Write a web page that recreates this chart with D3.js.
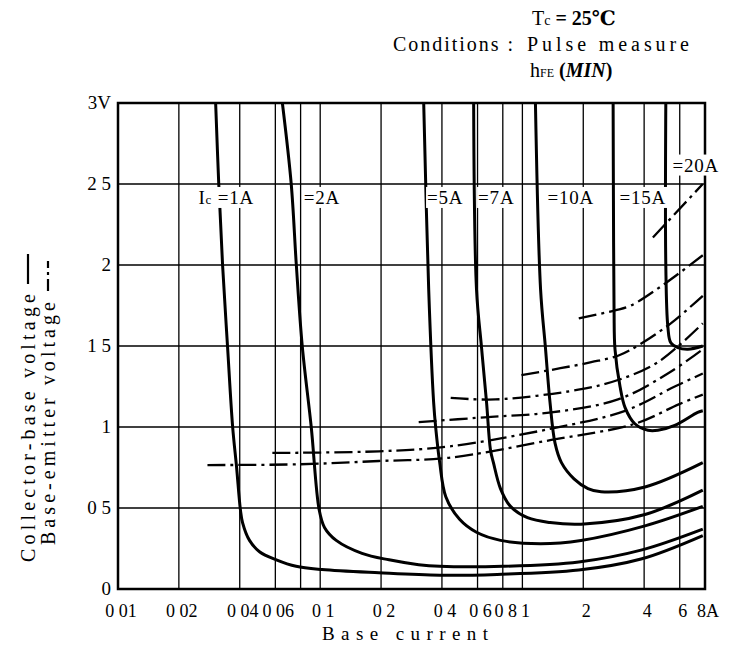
<!DOCTYPE html>
<html>
<head>
<meta charset="utf-8">
<script src="https://cdn.jsdelivr.net/npm/d3@7"></script>
<style>
body { margin: 0; background: #fff; }
text { font-family: 'Liberation Serif', 'DejaVu Serif', serif; fill: #000; }
</style>
</head>
<body>
<div id="chart"></div>
<script>
// base current grid (A) and their printed labels
const xTicks = [0.01, 0.02, 0.04, 0.06, 0.08, 0.1, 0.2, 0.4, 0.6, 0.8, 1, 2, 4, 6, 8];
const xTickLabels = ['0 01', '0 02', '0 04', '0 06', '', '0 1', '0 2', '0 4', '0 6', '0 8', '1', '2', '4', '6', '8A'];
const yTicks = [0, 0.5, 1, 1.5, 2, 2.5, 3];
const yTickLabels = ['0', '0 5', '1', '1 5', '2', '2 5', '3V'];

// collector-base voltage, [Ib (A), V]
const vcb1A = [[0.0304, 3.0], [0.0315, 2.5], [0.0329, 2.0], [0.0348, 1.5], [0.0369, 1.0], [0.0386, 0.75], [0.0403, 0.49], [0.0413, 0.41], [0.0447, 0.30], [0.0501, 0.23], [0.0607, 0.18], [0.076, 0.14], [0.102, 0.12], [0.195, 0.10], [0.39, 0.085], [0.75, 0.09], [1.9, 0.117], [3.86, 0.185], [7.8, 0.33]];
const vcb2A = [[0.065, 3.0], [0.0719, 2.5], [0.0762, 2.0], [0.0815, 1.5], [0.0903, 1.0], [0.0988, 0.49], [0.105, 0.38], [0.12, 0.30], [0.161, 0.22], [0.219, 0.18], [0.307, 0.15], [0.39, 0.14], [0.8, 0.14], [1.9, 0.167], [3.86, 0.24], [7.8, 0.37]];
const vcb5A = [[0.325, 3.0], [0.344, 1.85], [0.364, 1.15], [0.373, 0.99], [0.39, 0.78], [0.418, 0.57], [0.489, 0.43], [0.593, 0.35], [0.779, 0.30], [1.23, 0.28], [1.95, 0.30], [4.04, 0.39], [7.8, 0.51]];
const vcb7A = [[0.574, 3.0], [0.593, 1.85], [0.628, 1.49], [0.665, 1.15], [0.695, 0.86], [0.719, 0.78], [0.779, 0.62], [0.873, 0.51], [1.06, 0.44], [1.37, 0.41], [1.95, 0.40], [4.04, 0.46], [7.8, 0.61]];
const vcb10A = [[1.16, 3.0], [1.23, 1.85], [1.30, 1.49], [1.37, 1.15], [1.45, 0.90], [1.56, 0.78], [1.80, 0.68], [2.11, 0.62], [2.45, 0.60], [4.04, 0.63], [7.8, 0.78]];
const vcb15A = [[2.81, 3.0], [2.82, 2.4], [2.84, 1.72], [2.87, 1.48], [3.04, 1.25], [3.22, 1.12], [3.6, 1.02], [4.18, 0.98], [4.68, 0.98], [5.67, 1.01], [7.36, 1.09], [7.8, 1.10]];
const vcb20A = [[5.12, 3.0], [5.12, 2.0], [5.24, 1.62], [5.42, 1.52], [5.87, 1.49], [6.58, 1.48], [7.8, 1.50]];

// base-emitter voltage, [Ib (A), V]
const vbe1A = [[0.0277, 0.765], [0.079, 0.77], [0.195, 0.79], [0.432, 0.81], [1.39, 0.92], [3.6, 1.02], [5.93, 1.14], [7.8, 1.20]];
const vbe2A = [[0.058, 0.84], [0.195, 0.85], [0.432, 0.88], [1.39, 0.99], [3.22, 1.10], [5.67, 1.25], [7.8, 1.33]];
const vbe5A = [[0.307, 1.03], [0.65, 1.06], [1.39, 1.09], [2.97, 1.17], [5.24, 1.33], [7.8, 1.48]];
const vbe7A = [[0.442, 1.18], [0.736, 1.17], [1.89, 1.23], [2.97, 1.29], [4.68, 1.40], [7.8, 1.64]];
const vbe10A = [[0.989, 1.32], [1.5, 1.36], [2.19, 1.40], [2.97, 1.44], [3.81, 1.51], [5.42, 1.64], [7.8, 1.81]];
const vbe15A = [[1.9, 1.67], [2.87, 1.72], [3.44, 1.75], [5.0, 1.88], [7.8, 2.06]];
const vbe20A = [[4.42, 2.17], [7.8, 2.50]];

// curve labels: [text after "=", Ib, V]
const curveLabels = [['1A', 0.0455, 2.42], ['2A', 0.081, 2.42], ['5A', 0.33, 2.42], ['7A', 0.59, 2.42], ['10A', 1.30, 2.42], ['15A', 2.95, 2.42], ['20A', 5.4, 2.62]];

const svg = d3.select('#chart').append('svg')
	.attr('width', 736)
	.attr('height', 658)
	.style('background', '#fff');

const x = d3.scaleLog().domain([0.01, 8]).range([118, 705]);
const y = d3.scaleLinear().domain([0, 3]).range([589, 103]);

// grid
svg.append('g').selectAll('line.v')
	.data(xTicks).enter()
	.append('line')
	.attr('x1', d => x(d)).attr('x2', d => x(d))
	.attr('y1', y(0)).attr('y2', y(3))
	.attr('stroke', '#000').attr('stroke-width', 1.3);

svg.append('g').selectAll('line.h')
	.data(yTicks).enter()
	.append('line')
	.attr('x1', x(0.01)).attr('x2', x(8))
	.attr('y1', d => y(d)).attr('y2', d => y(d))
	.attr('stroke', '#000').attr('stroke-width', 1.3);

svg.append('rect')
	.attr('x', x(0.01)).attr('y', y(3))
	.attr('width', x(8) - x(0.01)).attr('height', y(0) - y(3))
	.attr('fill', 'none').attr('stroke', '#000').attr('stroke-width', 2.5);

// tick labels
svg.append('g').selectAll('text')
	.data(xTicks).enter()
	.append('text')
	.attr('x', d => x(d) + 3).attr('y', 617)
	.attr('text-anchor', 'middle')
	.attr('font-size', 18)
	.text((d, i) => xTickLabels[i]);

svg.append('g').selectAll('text')
	.data(yTicks).enter()
	.append('text')
	.attr('x', 111).attr('y', d => y(d) + 6)
	.attr('text-anchor', 'end')
	.attr('font-size', 19)
	.text((d, i) => yTickLabels[i]);

const line = d3.line()
	.x(d => x(d[0]))
	.y(d => y(d[1]))
	.curve(d3.curveCatmullRom.alpha(0.5));

const plot = svg.append('g');

[vbe1A, vbe2A, vbe5A, vbe7A, vbe10A, vbe15A, vbe20A].forEach(s => {
	plot.append('path')
		.attr('d', line(s))
		.attr('fill', 'none')
		.attr('stroke', '#000')
		.attr('stroke-width', 2.3)
		.attr('stroke-dasharray', '18,5,3,5');
});

[vcb1A, vcb2A, vcb5A, vcb7A, vcb10A, vcb15A, vcb20A].forEach(s => {
	plot.append('path')
		.attr('d', line(s))
		.attr('fill', 'none')
		.attr('stroke', '#000')
		.attr('stroke-width', 3)
		.attr('stroke-linejoin', 'round');
});

// curve labels on white patches
curveLabels.forEach((c, i) => {
	const g = svg.append('g').attr('transform', `translate(${x(c[1])},${y(c[2])})`);
	const t = g.append('text').attr('font-size', 19).attr('dy', 7).attr('letter-spacing', 0.8);
	if (i === 0) {
		t.attr('text-anchor', 'end').attr('x', 3);
		t.append('tspan').text('I');
		t.append('tspan').attr('font-size', 13).text('c');
		t.append('tspan').text(' =' + c[0]);
	} else {
		t.attr('x', 2).text('=' + c[0]);
	}
	const b = t.node().getBBox();
	g.insert('rect', 'text')
		.attr('x', b.x - 1).attr('y', b.y)
		.attr('width', b.width + 2).attr('height', b.height)
		.attr('fill', '#fff');
});

// conditions
const cond = svg.append('g').attr('font-size', 20);
const t1 = cond.append('text').attr('x', 532).attr('y', 25);
t1.append('tspan').text('T');
t1.append('tspan').attr('font-size', 14).text('c');
t1.append('tspan').attr('font-weight', 'bold').text(' = 25℃');
cond.append('text').attr('x', 393).attr('y', 51).attr('textLength', 120).attr('lengthAdjust', 'spacing').text('Conditions :');
cond.append('text').attr('x', 527).attr('y', 51).attr('textLength', 162).attr('lengthAdjust', 'spacing').text('Pulse measure');
const t3 = cond.append('text').attr('x', 530).attr('y', 77);
t3.append('tspan').text('h');
t3.append('tspan').attr('font-size', 12).text('FE');
t3.append('tspan').attr('font-weight', 'bold').text(' (');
t3.append('tspan').attr('font-weight', 'bold').attr('font-style', 'italic').text('MIN');
t3.append('tspan').attr('font-weight', 'bold').text(')');

// axis titles
svg.append('text')
	.attr('x', 322).attr('y', 640)
	.attr('font-size', 19)
	.attr('textLength', 166).attr('lengthAdjust', 'spacing')
	.text('Base  current');

const yt1 = svg.append('g').attr('transform', 'translate(35,562) rotate(-90)');
yt1.append('text').attr('font-size', 20).attr('textLength', 268).attr('lengthAdjust', 'spacing').text('Collector-base voltage');
yt1.append('line').attr('x1', 278).attr('x2', 308).attr('y1', -7).attr('y2', -7)
	.attr('stroke', '#000').attr('stroke-width', 2.2);

const yt2 = svg.append('g').attr('transform', 'translate(55,545) rotate(-90)');
yt2.append('text').attr('font-size', 20).attr('textLength', 243).attr('lengthAdjust', 'spacing').text('Base-emitter voltage');
yt2.append('line').attr('x1', 254).attr('x2', 284).attr('y1', -7).attr('y2', -7)
	.attr('stroke', '#000').attr('stroke-width', 2.2).attr('stroke-dasharray', '12,4,3,4');
</script>
</body>
</html>
